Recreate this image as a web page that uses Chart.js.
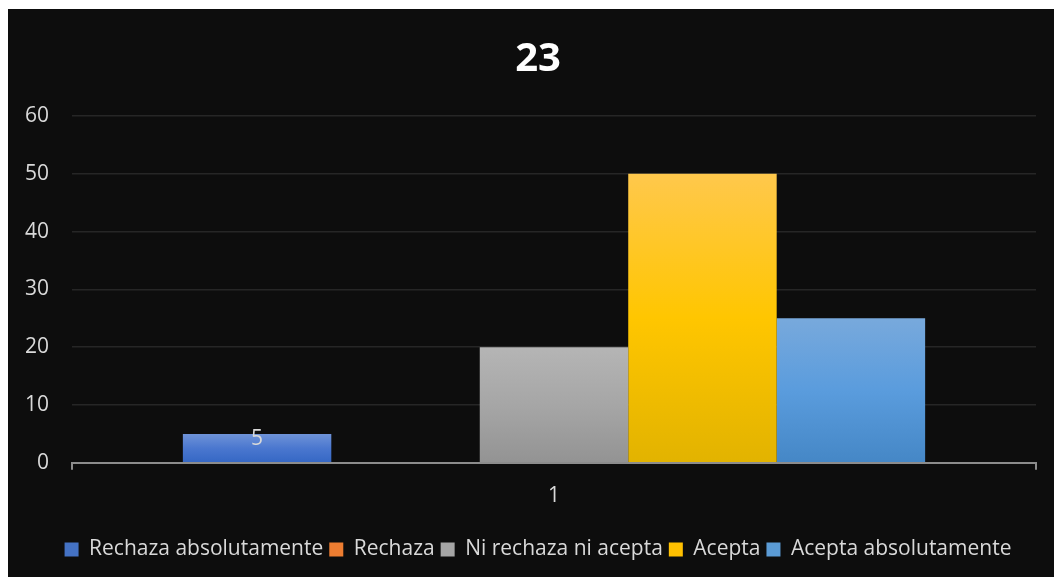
<!DOCTYPE html>
<html>
<head>
<meta charset="utf-8">
<script src="https://cdn.jsdelivr.net/npm/chart.js@4"></script>
<style>
  html, body { margin: 0; padding: 0; background: #ffffff; }
  #wrap {
    position: absolute; left: 8px; top: 9px;
    width: 1046px; height: 568px;
    background: #0d0d0d;
  }
</style>
</head>
<body>
<div id="wrap"><canvas id="chart23"></canvas></div>
<script>
const categories = ['1'];
const seriesNames = ['Rechaza absolutamente', 'Rechaza', 'Ni rechaza ni acepta', 'Acepta', 'Acepta absolutamente'];
const seriesValues = [[5], [0], [20], [50], [25]];
const yTicks = [0, 10, 20, 30, 40, 50, 60];

// gradient stops for each series (top, middle, bottom)
const barColors = [
  ['#6f93d8', '#4a77cf', '#3567c4'],
  ['#f79a5a', '#f07f2a', '#e06c1a'],
  ['#b5b5b5', '#a6a6a6', '#939393'],
  ['#ffc84c', '#ffc600', '#e2b300'],
  ['#78a9dc', '#5a9cdd', '#4587c6']
];
const solidColors = ['#4472c4', '#ed7d31', '#a5a5a5', '#ffc000', '#5b9bd5'];
const textColor = '#d9d9d9';
const fontFamily = 'Open Sans';

const makeGradient = (idx) => (context) => {
  const chart = context.chart;
  const area = chart.chartArea;
  const yScale = chart.scales.y;
  if (!area || !yScale) return solidColors[idx];
  const top = yScale.getPixelForValue(seriesValues[idx][0]);
  const bottom = area.bottom;
  if (!isFinite(top) || !isFinite(bottom) || top >= bottom) return solidColors[idx];
  const g = chart.ctx.createLinearGradient(0, top, 0, bottom);
  g.addColorStop(0, barColors[idx][0]);
  g.addColorStop(0.5, barColors[idx][1]);
  g.addColorStop(1, barColors[idx][2]);
  return g;
};

// value label drawn inside the top of the first bar only
const valueLabel = {
  id: 'valueLabel',
  afterDatasetsDraw(chart) {
    const ctx = chart.ctx;
    const bar = chart.getDatasetMeta(0).data[0];
    ctx.save();
    ctx.font = '21px "' + fontFamily + '"';
    ctx.fillStyle = textColor;
    ctx.textAlign = 'center';
    ctx.textBaseline = 'top';
    ctx.fillText(String(seriesValues[0][0]), bar.x, bar.y - 5);
    ctx.restore();
  }
};

const ctx = document.getElementById('chart23').getContext('2d');
new Chart(ctx, {
  type: 'bar',
  data: {
    labels: categories,
    datasets: seriesNames.map((name, i) => ({
      label: name,
      data: seriesValues[i],
      backgroundColor: makeGradient(i),
      borderWidth: 0,
      barPercentage: 1.0,
      categoryPercentage: 0.77
    }))
  },
  options: {
    responsive: true,
    maintainAspectRatio: false,
    animation: false,
    layout: { padding: { left: 32, right: 18, top: 0, bottom: 7 } },
    scales: {
      x: {
        z: 1,
        afterFit: (axis) => { axis.height += 10; },
        grid: {
          drawOnChartArea: false,
          drawTicks: true,
          tickLength: 7,
          color: '#8c8c8c',
          lineWidth: 2,
          offset: true
        },
        border: { display: true, color: '#8c8c8c', width: 2 },
        ticks: { color: textColor, font: { family: fontFamily, size: 21 }, padding: 14 }
      },
      y: {
        min: 0,
        max: 60,
        afterBuildTicks: (axis) => { axis.ticks = yTicks.map(v => ({ value: v })); },
        afterFit: (axis) => { axis.width = 32; },
        grid: { color: '#262626', lineWidth: 1.5, drawTicks: false },
        border: { display: false },
        // mirrored so the labels can sit in the left margin, right-aligned
        ticks: {
          color: textColor,
          font: { family: fontFamily, size: 21 },
          mirror: true,
          crossAlign: 'far',
          padding: -47
        }
      }
    },
    plugins: {
      title: {
        display: true,
        text: '23',
        color: '#ffffff',
        font: { family: fontFamily, size: 40, weight: 'bold' },
        padding: { top: 27, bottom: 32 }
      },
      legend: {
        position: 'bottom',
        labels: {
          color: textColor,
          font: { family: fontFamily, size: 21 },
          boxWidth: 14,
          boxHeight: 14,
          padding: 6,
          generateLabels: (chart) => seriesNames.map((name, i) => ({
            text: name,
            fillStyle: solidColors[i],
            strokeStyle: solidColors[i],
            lineWidth: 0,
            fontColor: textColor,
            datasetIndex: i
          }))
        }
      },
      tooltip: { enabled: false }
    }
  },
  plugins: [valueLabel]
});
</script>
</body>
</html>
